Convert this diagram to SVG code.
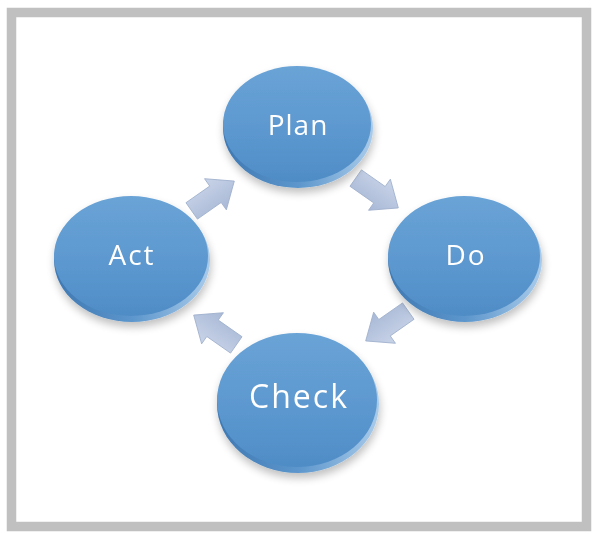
<svg xmlns="http://www.w3.org/2000/svg" width="598" height="538" viewBox="0 0 598 538">
<style>
  .face { fill: url(#faceGrad); }
  .rim { fill: url(#rimGrad); }
  .lbl { font-family: "Open Sans", "Liberation Sans", sans-serif; font-size: 28px; font-weight: 500; fill: #ffffff; text-anchor: middle; letter-spacing: 1px; }
  .arr { fill: url(#arrGrad); stroke: #9fb0cc; stroke-width: 0.8; }
</style>
<defs>
  <linearGradient id="faceGrad" x1="0" y1="0" x2="0" y2="1">
    <stop offset="0" stop-color="#6aa3d6"/>
    <stop offset="0.6" stop-color="#5b97cf"/>
    <stop offset="1" stop-color="#4f8cc6"/>
  </linearGradient>
  <linearGradient id="rimGrad" x1="0" y1="0" x2="1" y2="0">
    <stop offset="0" stop-color="#3f78b2"/>
    <stop offset="0.5" stop-color="#5c96cc"/>
    <stop offset="1" stop-color="#a9cbea"/>
  </linearGradient>
  <linearGradient id="arrGrad" x1="0" y1="0" x2="0" y2="1">
    <stop offset="0" stop-color="#c9d4e8"/>
    <stop offset="1" stop-color="#a8b8d6"/>
  </linearGradient>
  <filter id="sh" x="-20%" y="-20%" width="140%" height="150%">
    <feGaussianBlur in="SourceAlpha" stdDeviation="4"/>
    <feOffset dx="1" dy="5"/>
    <feComponentTransfer><feFuncA type="linear" slope="0.25"/></feComponentTransfer>
    <feMerge><feMergeNode/><feMergeNode in="SourceGraphic"/></feMerge>
  </filter>
  <path id="blk" d="M-26,-10 L3,-10 L3,-19 L26,0 L3,19 L3,10 L-26,10 Z"/>
</defs>
<rect x="0" y="0" width="598" height="538" fill="#ffffff"/>
<rect x="11.5" y="12.5" width="575" height="514" fill="none" stroke="#c0c0c0" stroke-width="9.5"/>

<g id="connectors">
  <use href="#blk" class="arr" transform="translate(213,196) rotate(-35)"/>
  <use href="#blk" class="arr" transform="translate(377,193) rotate(35)"/>
  <use href="#blk" class="arr" transform="translate(387,326) rotate(145)"/>
  <use href="#blk" class="arr" transform="translate(215,330) rotate(-145)"/>
</g>

<g id="plan" filter="url(#sh)">
  <ellipse class="rim" cx="298" cy="128" rx="75" ry="60"/>
  <ellipse class="face" cx="297" cy="124" rx="74" ry="58"/>
  <text class="lbl" x="298" y="135">Plan</text>
</g>
<g id="act" filter="url(#sh)">
  <ellipse class="rim" cx="132" cy="260" rx="78" ry="62"/>
  <ellipse class="face" cx="131" cy="256" rx="77" ry="60"/>
  <text class="lbl" x="132" y="265" style="letter-spacing:2px">Act</text>
</g>
<g id="do" filter="url(#sh)">
  <ellipse class="rim" cx="465" cy="260" rx="77" ry="62"/>
  <ellipse class="face" cx="464" cy="256" rx="76" ry="60"/>
  <text class="lbl" x="466" y="265" style="letter-spacing:2px">Do</text>
</g>
<g id="check" filter="url(#sh)">
  <ellipse class="rim" cx="298" cy="404" rx="81" ry="69"/>
  <ellipse class="face" cx="297" cy="400" rx="80" ry="67"/>
  <text class="lbl" x="299" y="408" style="font-size:32px;letter-spacing:2px">Check</text>
</g>
</svg>
